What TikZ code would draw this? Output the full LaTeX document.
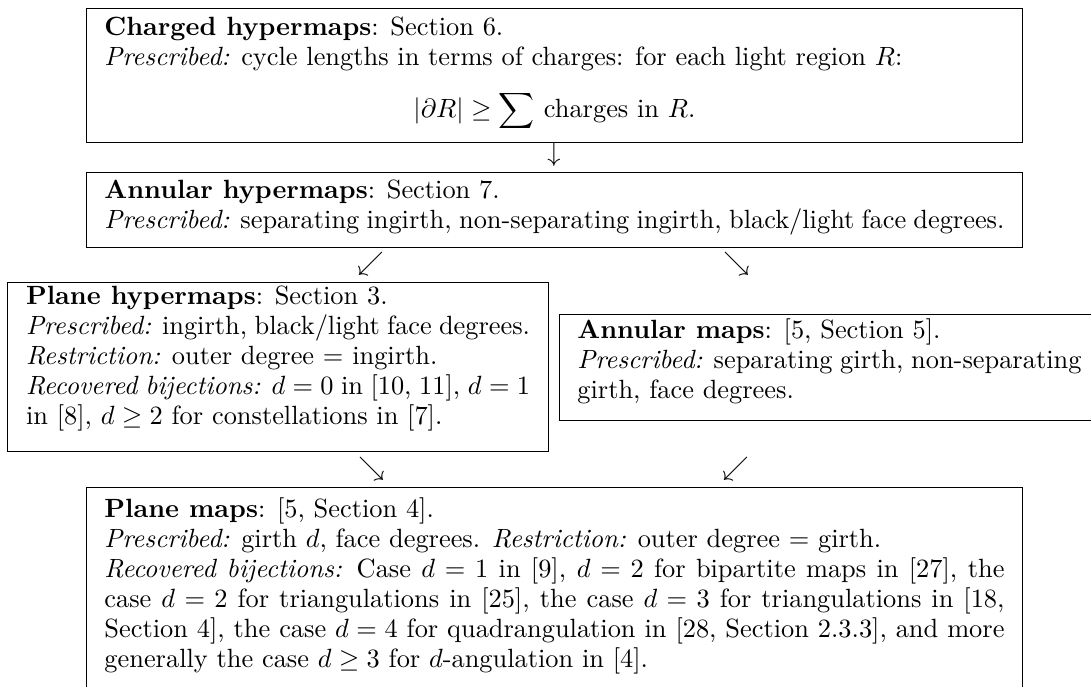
\RequirePackage{fix-cm}
\documentclass[tikz,border=0pt]{standalone}

\newcommand{\botgap}[1]{\vrule width 0pt depth #1\relax}

\begin{document}
\begin{tikzpicture}[x=0.4pt,y=-0.4pt,font=\fontsize{10.55}{12}\selectfont]
    \tikzset{
        mapbox/.style={draw, anchor=north west, align=justify, inner xsep=7.3pt, inner ysep=3pt},
        widebox/.style={mapbox, text width=360pt},
        halfbox/.style={mapbox, text width=201.6pt},
    }
    \useasboundingbox (0,0) rectangle (1091,686);

    \node[widebox, inner ysep=3.4pt] (charged) at (85.7,8.3) {
        \textbf{Charged hypermaps}: Section 6.\\
        \emph{Prescribed:} cycle lengths in terms of charges: for each light region $R$:\\[7pt]
        \centerline{$\displaystyle |\partial R| \geq \sum$ charges in $R$.\botgap{6.6pt}}};
    \node[widebox] (annularhyp) at (85.7,172.3) {
        \textbf{Annular hypermaps}: Section 7.\\
        \emph{Prescribed:} separating ingirth, non-separating ingirth, black/light face degrees.\botgap{4.5pt}};
    \node[halfbox, inner ysep=1.5pt] (planehyp) at (7.3,281.7) {
        \textbf{Plane hypermaps}: Section 3.\\
        \emph{Prescribed:} ingirth, black/light face degrees.\\
        \emph{Restriction:} outer degree $=$ ingirth.\\
        \emph{Recovered bijections:} $d=0$ in [10, 11], $d=1$ in [8], $d\geq 2$ for constellations in [7].\botgap{9.4pt}};
    \node[halfbox, inner ysep=1.5pt] (annularmap) at (558.7,314) {
        \textbf{Annular maps}: [5, Section 5].\\
        \emph{Prescribed:} separating girth, non-separating girth, face degrees.\botgap{7.5pt}};
    \node[widebox, inner ysep=4.1pt] (planemap) at (85.7,487) {
        \textbf{Plane maps}: [5, Section 4].\\
        \emph{Prescribed:} girth $d$, face degrees. \emph{Restriction:} outer degree $=$ girth.\\
        \emph{Recovered bijections:} Case $d=1$ in [9], $d=2$ for bipartite maps in [27], the case $d=2$ for triangulations in [25], the case $d=3$ for triangulations in [18, Section 4], the case $d=4$ for quadrangulation in [28, Section 2.3.3], and more generally the case $d\geq 3$ for $d$-angulation in [4].\botgap{12pt}};

    % arrows between the boxes
    \foreach \px/\py/\sym [count=\k] in {554/154.5/\downarrow, 370.5/264/\swarrow, 736.5/264/\searrow, 371.5/468.5/\searrow, 735.5/468.5/\swarrow}
        \node[inner sep=0pt] (arr\k) at (\px,\py) {$\sym$};
\end{tikzpicture}
\end{document}
